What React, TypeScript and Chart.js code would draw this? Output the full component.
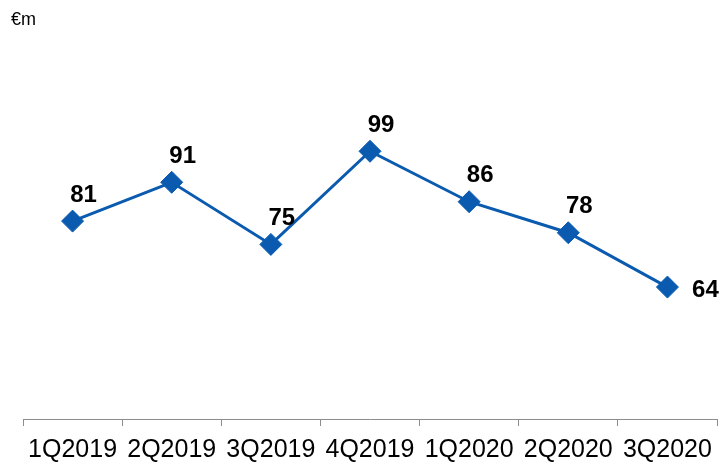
import React, { useEffect, useRef } from "react";
import { Chart, registerables } from "chart.js";

Chart.register(...registerables);

const categories = ["1Q2019", "2Q2019", "3Q2019", "4Q2019", "1Q2020", "2Q2020", "3Q2020"];
const values = [81, 91, 75, 99, 86, 78, 64];
const unitLabel = "€m";

const BLUE = "#0a5bb0";

const labelPlugin = {
  id: "valueLabels",
  afterDatasetsDraw(chart: any) {
    const ctx = chart.ctx;
    const meta = chart.getDatasetMeta(0);
    ctx.save();
    ctx.fillStyle = "#000";
    ctx.font = "bold 24px 'Liberation Sans', Arial, sans-serif";
    ctx.textAlign = "center";
    ctx.textBaseline = "middle";
    meta.data.forEach((pt: any, i: number) => {
      const v = values[i];
      if (i === values.length - 1) {
        ctx.fillText(String(v), pt.x + 38, pt.y + 3);
      } else {
        ctx.fillText(String(v), pt.x + 11, pt.y - 26);
      }
    });
    ctx.font = "18px 'Liberation Sans', Arial, sans-serif";
    ctx.textAlign = "left";
    ctx.textBaseline = "alphabetic";
    ctx.fillText(unitLabel, 11, 25);
    ctx.restore();
  },
};

export default function App() {
  const ref = useRef<HTMLCanvasElement | null>(null);
  useEffect(() => {
    if (!ref.current) return;
    const chart = new Chart(ref.current, {
      type: "line",
      data: {
        labels: categories,
        datasets: [
          {
            data: values,
            borderColor: BLUE,
            backgroundColor: BLUE,
            borderWidth: 3,
            pointStyle: "rectRot",
            pointRadius: 11,
            pointBorderWidth: 1,
            pointBackgroundColor: BLUE,
            pointBorderColor: BLUE,
            tension: 0,
            clip: false,
          },
        ],
      },
      options: {
        animation: false,
        responsive: false,
        maintainAspectRatio: false,
        layout: { autoPadding: false, padding: { left: 23, right: 3, top: 31, bottom: 0 } },
        plugins: { legend: { display: false }, tooltip: { enabled: false } },
        scales: {
          y: { display: false, min: 30, max: 130 },
          x: {
            offset: true,
            afterFit: (scale: any) => {
              scale.height = 43;
              scale.paddingLeft = 0;
              scale.paddingRight = 0;
            },
            grid: {
              offset: true,
              drawOnChartArea: false,
              drawTicks: true,
              tickLength: 7,
              color: "#8c8c8c",
            },
            border: { display: true, color: "#8c8c8c", width: 1 },
            ticks: {
              color: "#000",
              padding: 12,
              autoSkip: false,
              maxRotation: 0,
              font: { family: "'Liberation Sans', Arial, sans-serif", size: 25, lineHeight: 1 },
            },
          },
        },
      },
      plugins: [labelPlugin],
    });
    return () => chart.destroy();
  }, []);
  return (
    <div style={{ position: "fixed", left: 0, top: 0, width: 720, height: 462, background: "#fff" }}>
      <canvas ref={ref} width={720} height={462} style={{ width: 720, height: 462 }} />
    </div>
  );
}
